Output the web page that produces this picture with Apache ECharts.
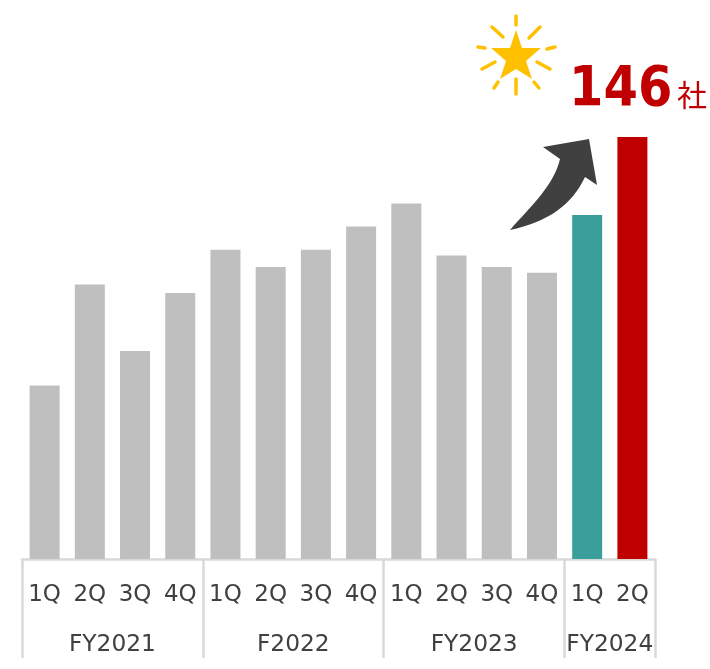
<!DOCTYPE html>
<html>
<head>
<meta charset="utf-8">
<style>html,body{margin:0;padding:0;background:#fff}#c{width:710px;height:669px}</style>
<script src="https://cdn.jsdelivr.net/npm/echarts@6/dist/echarts.min.js"></script>
</head>
<body>
<div id="c"></div>
<script>
const quarters = ['1Q','2Q','3Q','4Q','1Q','2Q','3Q','4Q','1Q','2Q','3Q','4Q','1Q','2Q'];
const values = [60,95,72,92,107,101,107,115,123,105,101,99,119,146];
const groupNames = ['FY2021','F2022','FY2023','FY2024'];
const groupSizes = [4,4,4,2];

const GREY='#BFBFBF', TEAL='#3A9F9B', RED='#C00000', LINE='#D9D9D9', TEXT='#404040', GOLD='#FFC000';
const FONT='"DejaVu Sans", Verdana, sans-serif';

const edges=[0]; groupSizes.forEach(s=>edges.push(edges[edges.length-1]+s));
const centres=groupSizes.map((s,i)=>edges[i]+s/2);

const rays=[[516,16,516,25],[492,27,503,37],[540,27,529,38],[478,47,485,48],[555,47,547,49],
            [495,62,482,69],[537,62,550,69],[516,79,516,94],[498,82,494,88],[534,82,539,88]];

echarts.graphic.registerShape('curvedArrow',echarts.graphic.extendShape({
  buildPath(ctx){
    ctx.moveTo(589,139);ctx.lineTo(543,147);ctx.lineTo(560,159);
    ctx.bezierCurveTo(554,185,532,205,510,230);
    ctx.bezierCurveTo(548,222,572,205,585,177);
    ctx.lineTo(597,185);ctx.closePath();
  }
}));

const chart=echarts.init(document.getElementById('c'),null,{renderer:'canvas'});
chart.setOption({
  animation:false,
  backgroundColor:'#fff',
  grid:{left:22,right:55,top:137,bottom:110,containLabel:false},
  xAxis:[
    {type:'category',data:quarters,position:'bottom',
     axisLine:{show:true,lineStyle:{color:LINE,width:2.5}},
     axisTick:{show:false},
     axisLabel:{interval:0,margin:25,fontSize:23,color:TEXT,fontFamily:FONT}},
    {type:'value',min:0,max:values.length,position:'bottom',splitLine:{show:false},
     axisLine:{show:false},
     axisTick:{show:true,customValues:edges,length:99,lineStyle:{color:LINE,width:2.5}},
     axisLabel:{show:true,customValues:centres,margin:74,fontSize:23.3,color:TEXT,fontFamily:FONT,
       formatter:v=>groupNames[centres.indexOf(v)]}}
  ],
  yAxis:{type:'value',min:0,max:146,show:false},
  series:[{type:'bar',xAxisIndex:0,barWidth:30,data:values,
    itemStyle:{color:p=>p.dataIndex===values.length-1?RED:p.dataIndex===values.length-2?TEAL:GREY}}],
  graphic:[
    {type:'curvedArrow',shape:{},style:{fill:'#404040'}},
    {type:'polygon',shape:{points:[[516,30],[522,48],[541,48],[526,61],[532,79],[516,69],[500,79],[506,61],[491,48],[510,48]]},
     style:{fill:GOLD}},
    ...rays.map(r=>({type:'line',shape:{x1:r[0],y1:r[1],x2:r[2],y2:r[3]},
      style:{stroke:GOLD,lineWidth:3.5,lineCap:'round'}})),
    {type:'text',x:569,y:63,scaleX:0.9,style:{text:'146',fill:RED,font:'bold 55px '+FONT}},
    {type:'text',x:677,y:80,style:{text:'社',fill:RED,font:'30px "Noto Sans CJK JP"'}}
  ]
});
</script>
</body>
</html>
